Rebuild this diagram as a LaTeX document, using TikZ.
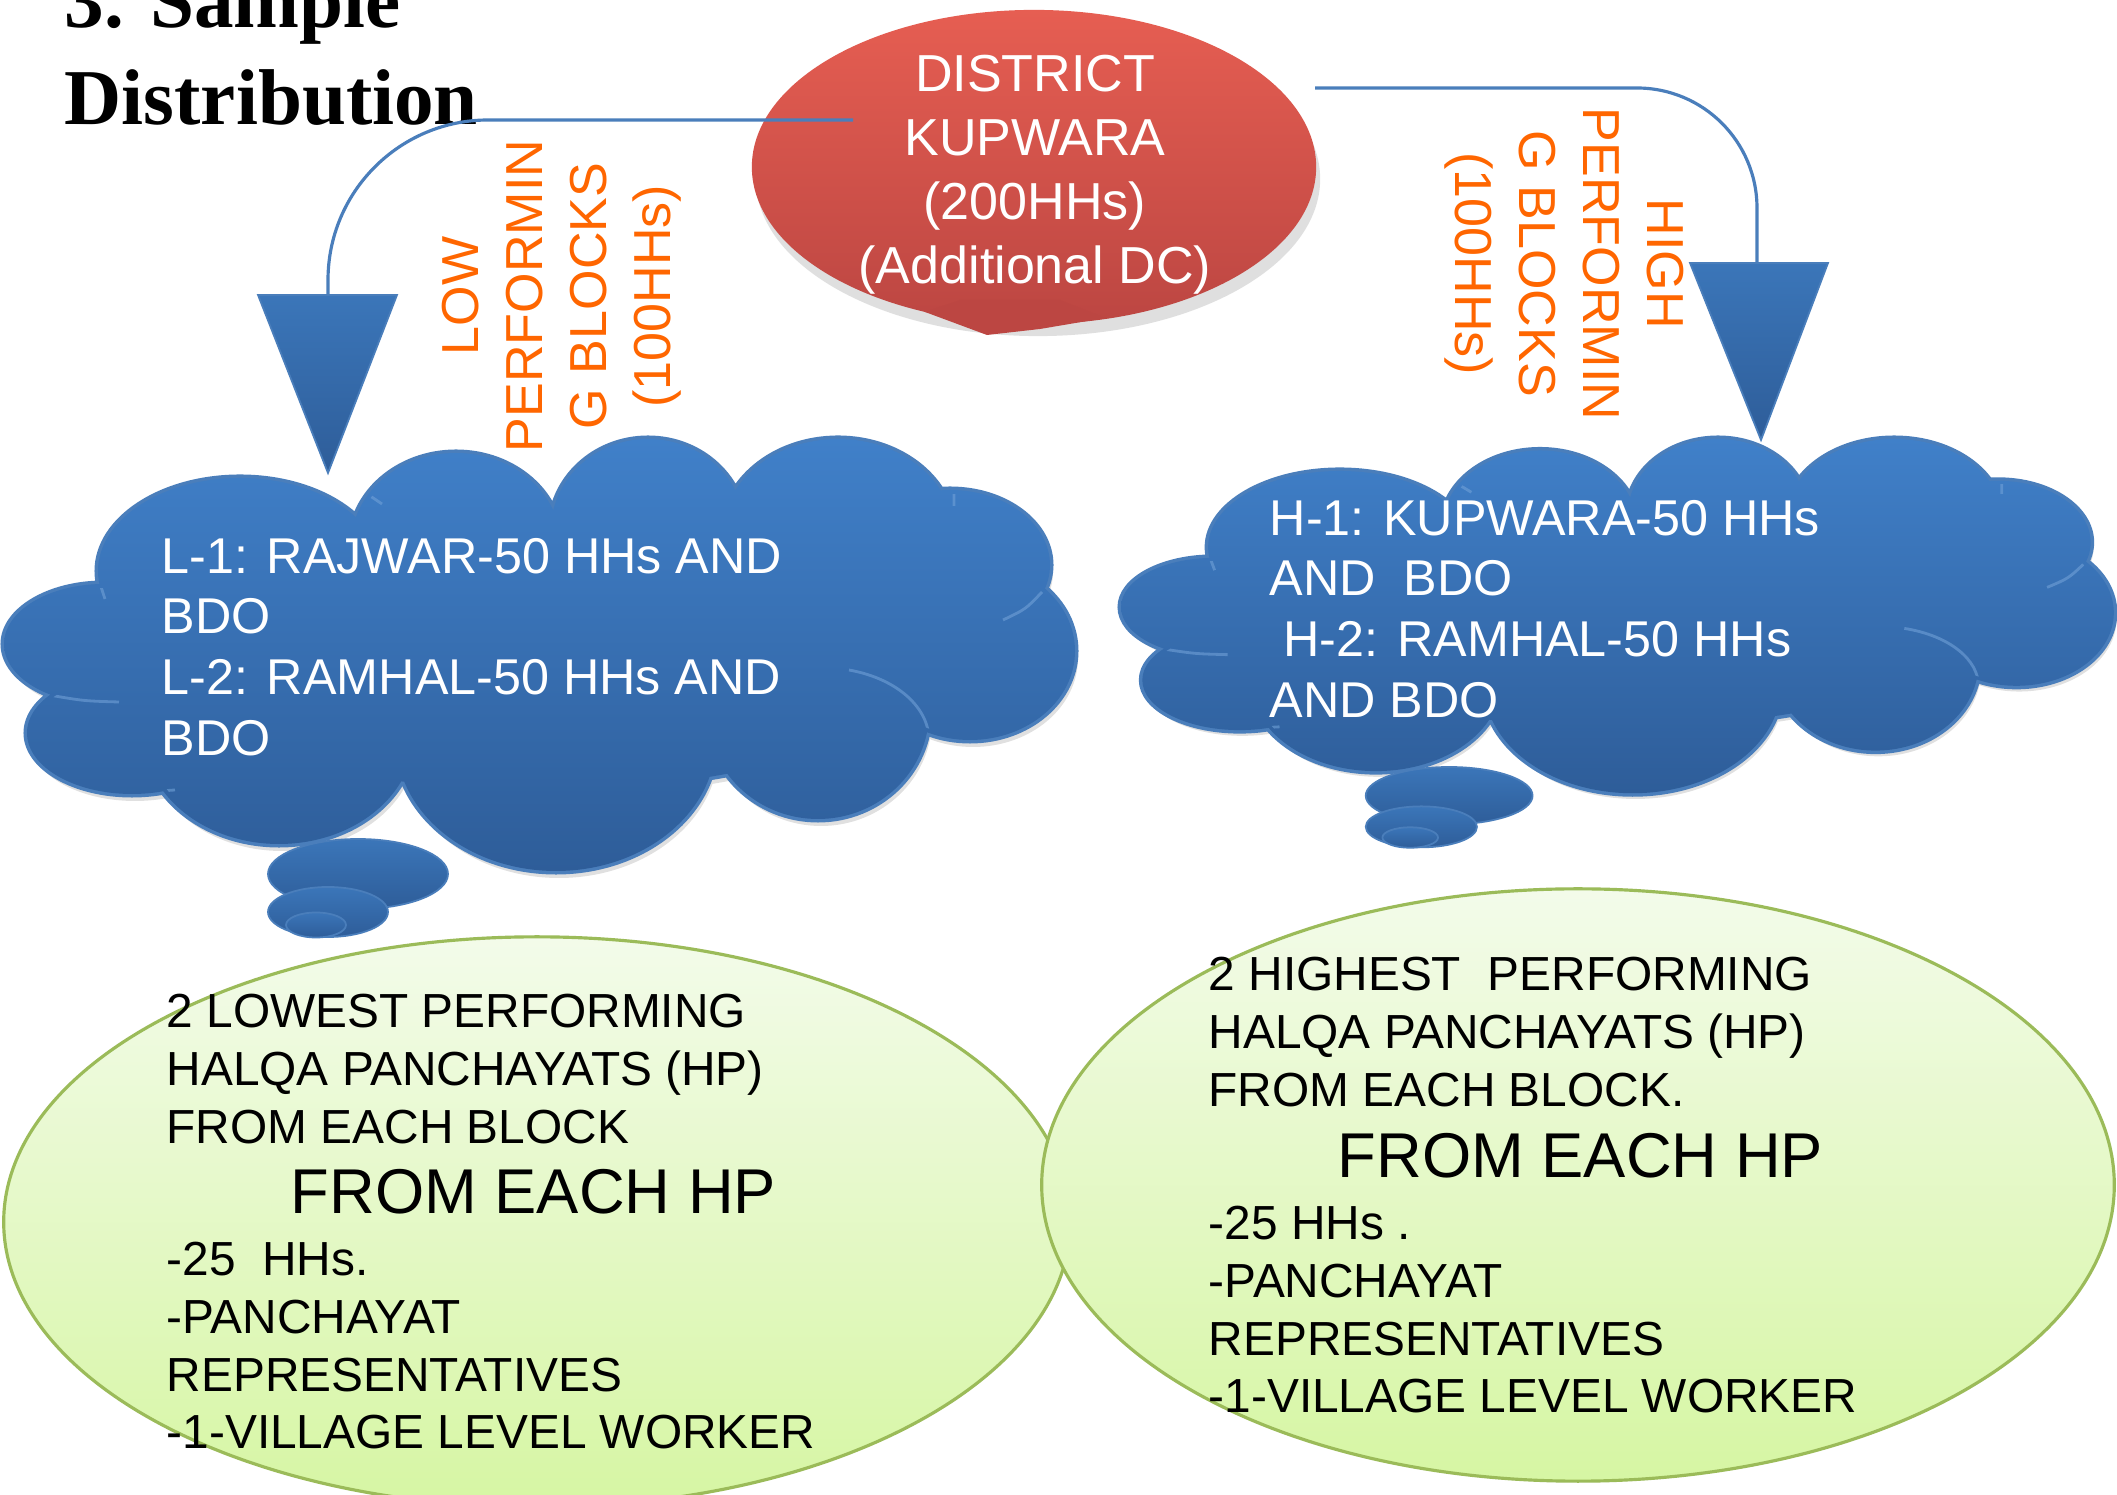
\documentclass[tikz,border=0pt]{standalone}
\usepackage{fontspec}
\setmainfont{Liberation Sans}
\newfontfamily\titlefont{Liberation Serif}
\usepackage{tikz}
\usetikzlibrary{positioning, calc, shapes.geometric, shadows}

\definecolor{disttop}{RGB}{230,94,82}
\definecolor{distbottom}{RGB}{188,70,66}
\definecolor{cloudtop}{RGB}{64,128,201}
\definecolor{cloudbottom}{RGB}{46,93,153}
\definecolor{cloudedge}{RGB}{74,126,187}
\definecolor{linkblue}{RGB}{74,126,187}
\definecolor{blockorange}{RGB}{255,102,0}
\definecolor{hptop}{RGB}{243,251,234}
\definecolor{hpbottom}{RGB}{214,246,163}
\definecolor{hpedge}{RGB}{155,187,89}

\tikzstyle{titletext}=[inner sep=0pt, font=\titlefont\bfseries\fontsize{22.5}{27.6}\selectfont]
\tikzstyle{distbox}=[ellipse, inner sep=0pt, minimum width=5.64cm, minimum height=3.14cm,
  top color=disttop, bottom color=distbottom,
  drop shadow={shadow xshift=0.4mm, shadow yshift=-1.2mm, opacity=0.25}]
\tikzstyle{disttext}=[inner sep=0pt, text=white, align=center, font=\fontsize{14.8}{18.2}\selectfont]
\tikzstyle{blocklabel}=[inner sep=0pt, text=blockorange, align=center, font=\fontsize{14.8}{18.2}\selectfont]
\tikzstyle{cloudtext}=[inner sep=0pt, anchor=west, text=white, align=left, font=\fontsize{14.3}{17.3}\selectfont]
\tikzstyle{cloudbody}=[top color=cloudtop, bottom color=cloudbottom]
\tikzstyle{crease}=[draw=cloudtop!75!white, line width=0.8pt, opacity=0.6]
\tikzstyle{pointer}=[top color=cloudtop!92!black, bottom color=cloudbottom, draw=cloudedge, line width=0.5pt]
\tikzstyle{edgepath}=[draw=linkblue, line width=0.9pt]
\tikzstyle{hpbox}=[ellipse, inner sep=0pt, minimum width=10.72cm, minimum height=5.92cm,
  draw=hpedge, line width=0.9pt, top color=hptop, bottom color=hpbottom]
\tikzstyle{hptext}=[inner sep=0pt, anchor=west, align=left, font=\fontsize{13.6}{16.4}\selectfont]
\tikzstyle{hpbig}=[inner sep=0pt, anchor=west, font=\fontsize{18}{21.6}\selectfont]

% puffs of a thought cloud: centre x/centre y/x radius/y radius
\newcommand{\cloudpuffs}{536/211/400/140, 236/132/142/93, 452/106/105/92, 644/91/97/91,
  834/96/116/96, 946/126/100/75, 966/212/105/89, 814/273/111/107, 552/301/160/131,
  275/296/135/109, 128/294/105/61, 100/205/100/60}
\newcommand{\cloudbubbles}{354/435/90/35, 324/473/60/25, 312/486/30/12.5}
\newcommand{\drawcloud}{%
  \fill[black, opacity=0.12] \foreach \cx/\cy/\rx/\ry in \cloudpuffs
    {(\cx+3,\cy+7) ellipse [x radius=\rx, y radius=\ry]};
  \draw[cloudedge, line width=2pt] \foreach \cx/\cy/\rx/\ry in \cloudpuffs
    {(\cx,\cy) ellipse [x radius=\rx, y radius=\ry]};
  \shade[cloudbody] \foreach \cx/\cy/\rx/\ry in \cloudpuffs
    {(\cx,\cy) ellipse [x radius=\rx, y radius=\ry]};
  % inner creases where the puffs meet
  \begin{scope}
    \clip \foreach \cx/\cy/\rx/\ry in \cloudpuffs
      {(\cx,\cy) ellipse [x radius=\rx-4, y radius=\ry-4]};
    \draw[crease] (347,50) .. controls (362,54) .. (378,65)
      (547,46) .. controls (549,38) .. (557,33)
      (719,36) .. controls (727,26) .. (740,21)
      (950,55) -- (950,67)
      (999,181) .. controls (1022,170) .. (1038,153)
      (845,231) .. controls (895,240) and (925,270) .. (925,301)
      (712,349) .. controls (710,360) .. (705,377)
      (392,375) .. controls (398,385) .. (410,394)
      (140,356) .. controls (155,352) .. (171,351)
      (45,256) .. controls (80,262) .. (115,263)
      (94,132) .. controls (96,145) .. (101,160);
  \end{scope}
  \foreach \cx/\cy/\rx/\ry in \cloudbubbles
    {\shade[pointer] (\cx,\cy) ellipse [x radius=\rx, y radius=\ry];}}

\begin{document}
\begin{tikzpicture}[x=0.01cm, y=-0.01cm]
    \useasboundingbox (0,0) rectangle (2117,1495);
    \clip (0,0) rectangle (2117,1495);
    \fill[white] (0,0) rectangle (2117,1495);

    % heading
    \node[titletext, anchor=base west] (titletop) at (64,28) {3. Sample};
    \node[titletext, anchor=base west] (titlebottom) at (64,125) {Distribution};

    % district callout
    \node[distbox] (district) at (1034,167) {};
    \fill[distbottom] (925,312) -- (987,335) -- (1040,329) -- (1105,318)
        -- (1060,300) -- (960,300) -- cycle;
    \node[disttext] (districtlabel) at (1035,175) {DISTRICT\\KUPWARA\\(200HHs)\\(Additional DC)};

    % block clouds
    \begin{scope}[shift={(4,439)}]
        \drawcloud
    \end{scope}
    \begin{scope}[shift={(1121,439)}, xscale=0.927, yscale=0.82]
        \drawcloud
    \end{scope}

    % connectors down to the clouds
    \coordinate (lowout) at (853,120);
    \coordinate (lowtip) at (328,295);
    \coordinate (highout) at (1315,88);
    \coordinate (hightip) at (1757,263);
    \draw[edgepath, rounded corners=1.6cm] (lowout) -| (lowtip);
    \draw[edgepath, rounded corners=1.2cm] (highout) -| (hightip);
    \shade[pointer] ($(lowtip)+(-70,0)$) -- ($(lowtip)+(69,0)$) -- ($(lowtip)+(0,178)$) -- cycle;
    \shade[pointer] ($(hightip)+(-67,0)$) -- ($(hightip)+(71,0)$) -- ($(hightip)+(4,177)$) -- cycle;

    \node[blocklabel, rotate=90] (lowlabel) at (562,296) {LOW\\PERFORMIN\\G BLOCKS\\(100HHs)};
    \node[blocklabel, rotate=-90] (highlabel) at (1564,264) {HIGH\\PERFORMIN\\G BLOCKS\\(100HHs)};

    \node[cloudtext] (lowblocks) at (161,647) {L-1: RAJWAR-50 HHs AND\\BDO\\L-2: RAMHAL-50 HHs AND\\BDO};
    \node[cloudtext] (highblocks) at (1269,609) {H-1: KUPWARA-50 HHs\\AND\ \ BDO\\\ H-2: RAMHAL-50 HHs\\AND BDO};

    % halqa panchayat ellipses
    \node[hpbox, minimum width=10.66cm, minimum height=5.7cm] (lowhp) at (537,1222) {};
    \node[hpbox] (highhp) at (1578,1185) {};

    \node[hptext] (lowhptop) at (166,1069) {2 LOWEST PERFORMING\\HALQA PANCHAYATS (HP)\\FROM EACH BLOCK};
    \node[hpbig] (lowhpmid) at (290,1192) {FROM EACH HP};
    \node[hptext] (lowhpbottom) at (166,1346) {-25\ \ HHs.\\-PANCHAYAT\\REPRESENTATIVES\\-1-VILLAGE LEVEL WORKER};

    \node[hptext] (highhptop) at (1208,1032) {2 HIGHEST\ \ PERFORMING\\HALQA PANCHAYATS (HP)\\FROM EACH BLOCK.};
    \node[hpbig] (highhpmid) at (1337,1156) {FROM EACH HP};
    \node[hptext] (highhpbottom) at (1208,1310) {-25 HHs .\\-PANCHAYAT\\REPRESENTATIVES\\-1-VILLAGE LEVEL WORKER};
\end{tikzpicture}
\end{document}
